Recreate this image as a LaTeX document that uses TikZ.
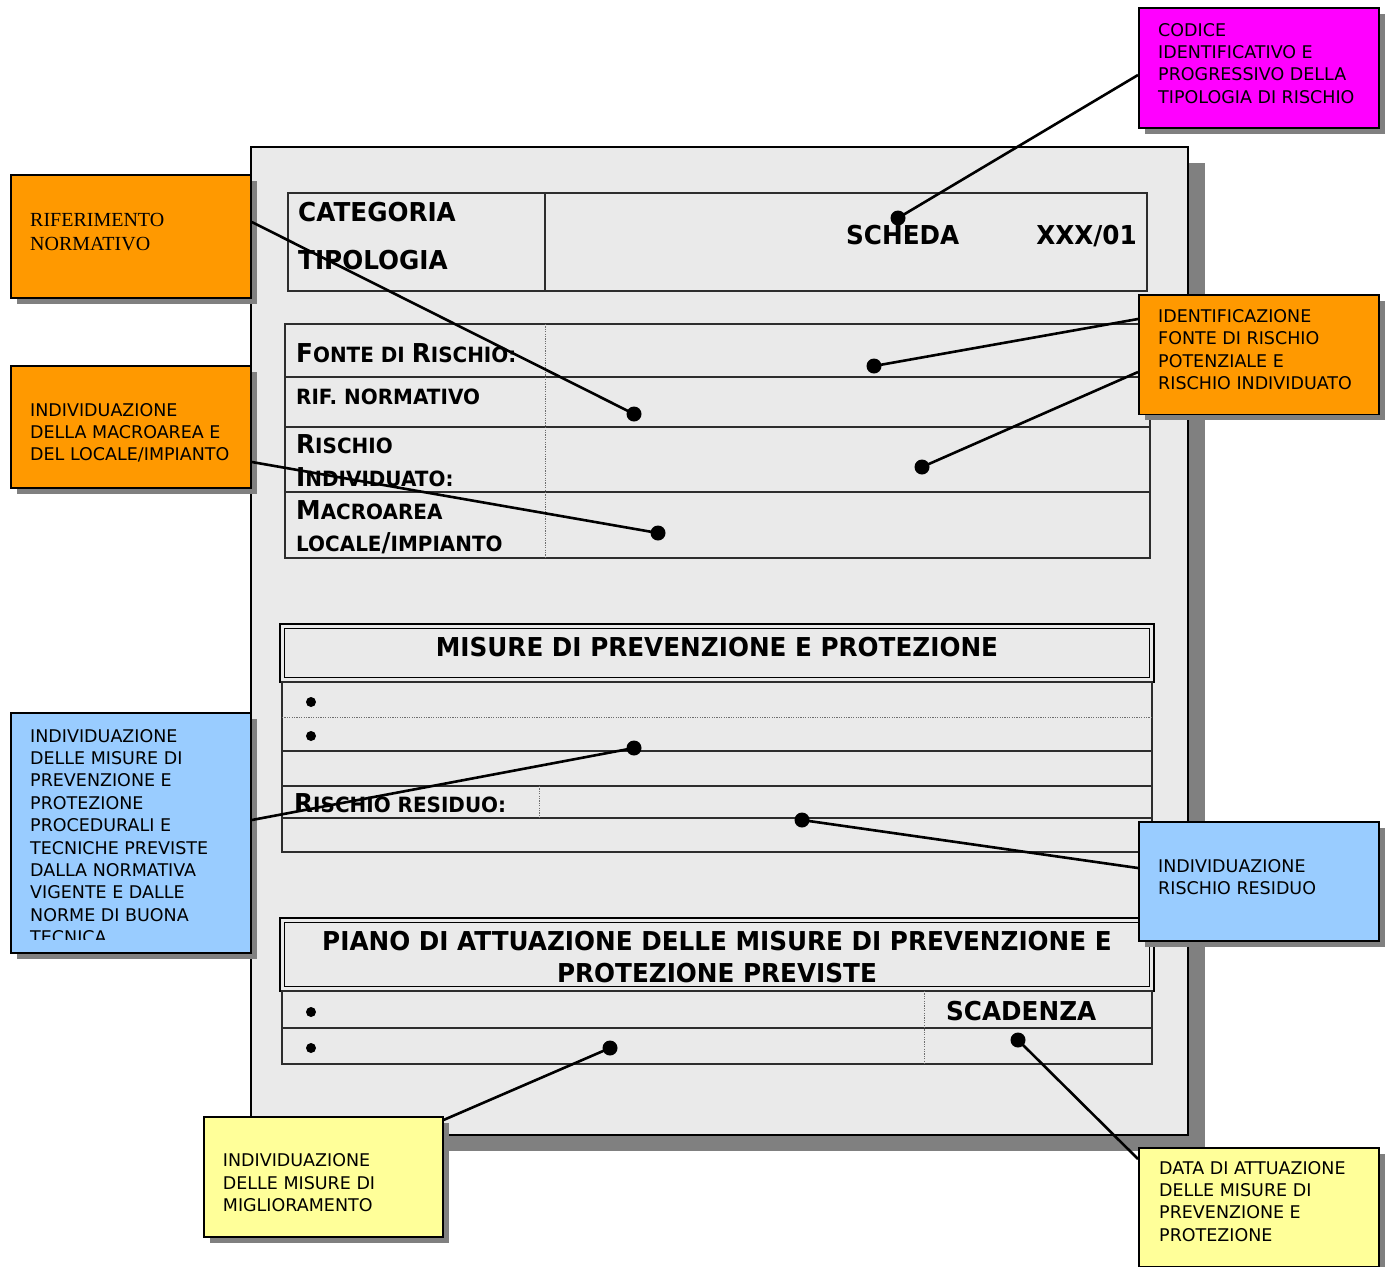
\documentclass[tikz,border=0pt]{standalone}
\usepackage{fontspec}
\setmainfont{DejaVu Sans}
\newfontfamily\labelfont{DejaVu Sans}
\newfontfamily\notefont{Liberation Serif}
\newfontfamily\formfont{DejaVu Sans}[FakeStretch=0.95]
\usetikzlibrary{shadows,calc}

\definecolor{sheetgray}{RGB}{234,234,234}
\definecolor{shade}{RGB}{128,128,128}
\definecolor{boxorange}{RGB}{255,153,0}
\definecolor{boxmagenta}{RGB}{255,0,255}
\definecolor{boxblue}{RGB}{153,204,255}
\definecolor{boxyellow}{RGB}{255,255,153}
\definecolor{rulegray}{RGB}{45,45,45}
\definecolor{dotgray}{RGB}{110,110,110}

% form lettering: bold, with large initials for the small-caps headings
\newcommand\fbig{\formfont\bfseries\fontsize{26}{31}\selectfont}
\newcommand\fsmall{\formfont\bfseries\fontsize{21}{25}\selectfont}
\newcommand\Up[1]{{\fontsize{26}{31}\selectfont #1}}
% left-aligned block whose reference point is the first baseline
\newcommand\noteblock[1]{\parbox[t]{235pt}{\raggedright #1}}

\begin{document}
\begin{tikzpicture}[x=1pt,y=-1pt,
  sheet/.style={draw=black, line width=2pt, fill=sheetgray, anchor=north west,
    inner sep=0pt, minimum width=937pt, minimum height=988pt,
    drop shadow={shadow xshift=17pt, shadow yshift=-16pt, fill=shade, opacity=1}},
  callout/.style={draw=black, line width=1.8pt, anchor=north west, inner sep=0pt,
    minimum width=240pt,
    drop shadow={shadow xshift=6pt, shadow yshift=-6pt, fill=shade, opacity=1}},
  rulebox/.style={draw=rulegray, line width=1.5pt},
  dotrule/.style={draw=dotgray, line width=0.9pt, dash pattern=on 1.2pt off 1.2pt},
  outerframe/.style={draw=black, line width=2pt},
  innerframe/.style={draw=black, line width=1.3pt},
  formtext/.style={anchor=base west, inner sep=0pt, font=\fsmall},
  formtitle/.style={anchor=base, inner sep=0pt, font=\fbig},
  labeltext/.style={anchor=base west, inner sep=0pt,
    font=\labelfont\fontsize{17.5}{22.4}\selectfont},
  notetext/.style={anchor=base west, inner sep=0pt,
    font=\notefont\fontsize{20}{24.7}\selectfont},
  bulletdot/.style={circle, fill=black, inner sep=0pt, minimum size=10pt},
  pin/.style={circle, fill=black, inner sep=0pt, minimum size=15pt},
  lead/.style={draw=black, line width=2.6pt}]

\useasboundingbox (0,0) rectangle (1393,1267);

% ---------- the sheet ----------
\node[sheet] (sheetbox) at (250,146) {};

% header table
\draw[rulebox] (288,193) rectangle (1147,291);
\draw[rulebox] (545,193) -- (545,291);
\node[formtext, font=\fbig] (cat) at (298,221) {CATEGORIA};
\node[formtext, font=\fbig] (tip) at (298,269) {TIPOLOGIA};
\node[formtext, font=\fbig] (scheda) at (846,244) {SCHEDA};
\node[formtext, font=\fbig, anchor=base east] (code) at (1137,244) {XXX/01};

% identification table
\draw[rulebox] (285,324) rectangle (1150,558);
\draw[rulebox] (285,377) -- (1150,377);
\draw[rulebox] (285,427) -- (1150,427);
\draw[rulebox] (285,492) -- (1150,492);
\draw[dotrule] (545,324) -- (545,558);
\node[formtext] (fonte) at (296,362) {\Up{F}ONTE DI \Up{R}ISCHIO:};
\node[formtext] (rif) at (296,404) {RIF. NORMATIVO};
\node[formtext] (risA) at (296,453) {\Up{R}ISCHIO};
\node[formtext] (risB) at (296,486) {\Up{I}NDIVIDUATO:};
\node[formtext] (macA) at (296,519) {\Up{M}ACROAREA};
\node[formtext] (macB) at (296,551) {LOCALE\Up{/}IMPIANTO};

% prevention measures table
\draw[outerframe] (280,624) rectangle (1154,682);
\draw[innerframe] (284.5,628.5) rectangle (1149.5,677.5);
\node[formtitle] (misure) at (717,656) {MISURE DI PREVENZIONE E PROTEZIONE};
\draw[rulebox] (282,682) rectangle (1152,852);
\draw[dotrule] (282,717) -- (1152,717);
\draw[rulebox] (282,751) -- (1152,751);
\draw[rulebox] (282,786) -- (1152,786);
\draw[rulebox] (282,818) -- (1152,818);
\draw[dotrule] (539,786) -- (539,818);
\node[bulletdot] (mb1) at (311,702) {};
\node[bulletdot] (mb2) at (311,736) {};
\node[formtext] (resid) at (294,812) {\Up{R}ISCHIO RESIDUO:};

% implementation plan table
\draw[outerframe] (280,918) rectangle (1154,991);
\draw[innerframe] (284.5,922.5) rectangle (1149.5,986.5);
\node[formtitle] (pianoA) at (717,950) {PIANO DI ATTUAZIONE DELLE MISURE DI PREVENZIONE E};
\node[formtitle] (pianoB) at (717,982) {PROTEZIONE PREVISTE};
\draw[rulebox] (282,991) rectangle (1152,1064);
\draw[rulebox] (282,1028) -- (1152,1028);
\draw[dotrule] (924,991) -- (924,1064);
\node[bulletdot] (pb1) at (311,1012) {};
\node[bulletdot] (pb2) at (311,1048) {};
\node[formtext, font=\fbig] (scad) at (946,1020) {SCADENZA};

% ---------- callout boxes ----------
\node[callout, fill=boxmagenta, minimum height=120pt] (codice) at (1138,6.7) {};
\node[labeltext] (codicetxt) at (1158,36) {\noteblock{CODICE\\IDENTIFICATIVO E\\PROGRESSIVO DELLA\\TIPOLOGIA DI RISCHIO}};

\node[callout, fill=boxorange, minimum height=123pt] (rifbox) at (10,174) {};
\node[notetext] (riftxt) at (30,226) {\noteblock{RIFERIMENTO\\NORMATIVO}};

\node[callout, fill=boxorange, minimum height=122pt] (macbox) at (10,365) {};
\node[labeltext] (mactxt) at (30,416) {\noteblock{INDIVIDUAZIONE\\DELLA MACROAREA E\\DEL LOCALE/IMPIANTO}};

\node[callout, fill=boxblue, minimum height=240pt] (misbox) at (10,712) {};
\begin{scope}
  \clip (10,712) rectangle (250,939);
  \node[labeltext] (mistxt) at (30,742) {\noteblock{INDIVIDUAZIONE\\DELLE MISURE DI\\PREVENZIONE E\\PROTEZIONE\\PROCEDURALI E\\TECNICHE PREVISTE\\DALLA NORMATIVA\\VIGENTE E DALLE\\NORME DI BUONA\\TECNICA}};
\end{scope}

\node[callout, fill=boxorange, minimum height=119.5pt] (fontebox) at (1138,294) {};
\node[labeltext] (fontetxt) at (1158,322.3) {\noteblock{IDENTIFICAZIONE\\FONTE DI RISCHIO\\POTENZIALE E\\RISCHIO INDIVIDUATO}};

\node[callout, fill=boxblue, minimum height=119.5pt] (residbox) at (1138,820.7) {};
\node[labeltext] (residtxt) at (1158,872.3) {\noteblock{INDIVIDUAZIONE\\RISCHIO RESIDUO}};

\node[callout, fill=boxyellow, minimum height=120.3pt, minimum width=239pt] (migbox) at (202.7,1115.7) {};
\node[labeltext] (migtxt) at (222.7,1166.7) {\noteblock{INDIVIDUAZIONE\\DELLE MISURE DI\\MIGLIORAMENTO}};

\node[callout, fill=boxyellow, minimum height=119.3pt] (databox) at (1138,1146.7) {};
\node[labeltext] (datatxt) at (1159,1174) {\noteblock{DATA DI ATTUAZIONE\\DELLE MISURE DI\\PREVENZIONE E\\PROTEZIONE}};

% ---------- pins and leader lines ----------
\node[pin] (pscheda) at (898,218) {};
\node[pin] (pfonte) at (874,366) {};
\node[pin] (prif) at (634,414) {};
\node[pin] (prisind) at (922,467) {};
\node[pin] (pmacro) at (658,533) {};
\node[pin] (pmisure) at (634,748) {};
\node[pin] (presid) at (802,820) {};
\node[pin] (pmigl) at (610,1048) {};
\node[pin] (pscad) at (1018,1040) {};

\draw[lead] ($(codice.north west)+(0,68.3)$) -- (pscheda.center);
\draw[lead] ($(rifbox.north east)+(0,48)$) -- (prif.center);
\draw[lead] ($(macbox.north east)+(0,97)$) -- (pmacro.center);
\draw[lead] ($(misbox.north east)+(0,108)$) -- (pmisure.center);
\draw[lead] ($(fontebox.north west)+(0,25)$) -- (pfonte.center);
\draw[lead] ($(fontebox.north west)+(0,78)$) -- (prisind.center);
\draw[lead] ($(residbox.north west)+(0,47.3)$) -- (presid.center);
\draw[lead] ($(migbox.north east)+(0,4.3)$) -- (pmigl.center);
\draw[lead] ($(databox.north west)+(0,12.3)$) -- (pscad.center);
\end{tikzpicture}
\end{document}
